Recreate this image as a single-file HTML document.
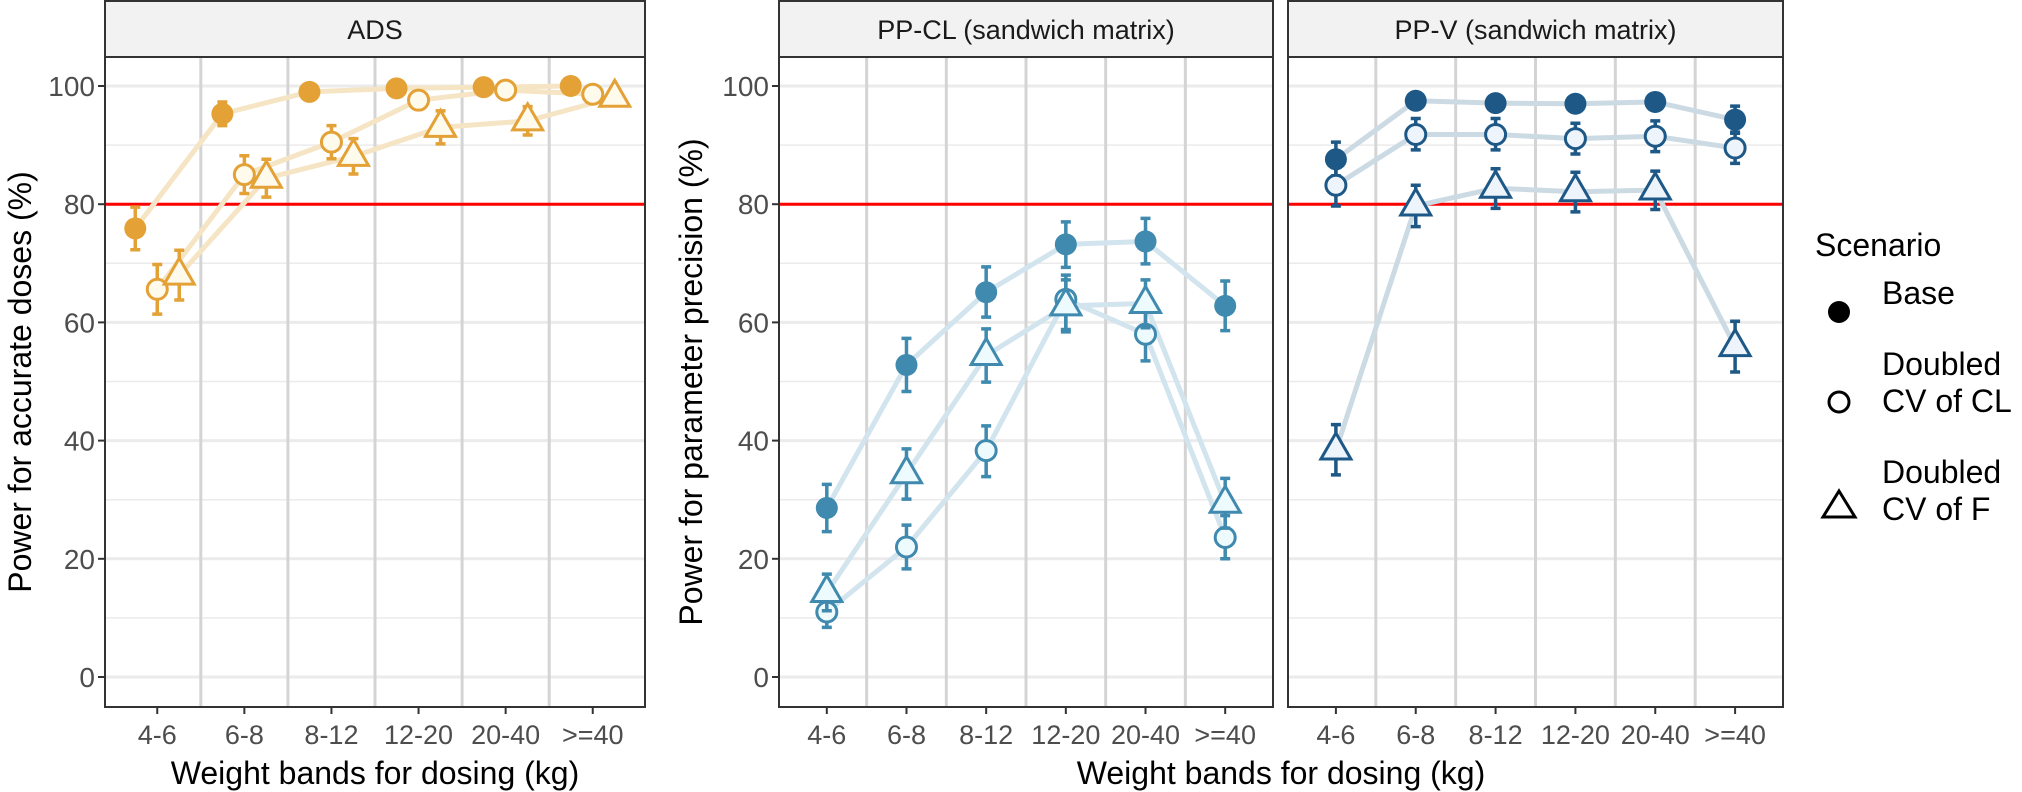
<!DOCTYPE html>
<html><head><meta charset="utf-8"><title>Power by weight band</title>
<style>
html,body{margin:0;padding:0;background:#fff;}
svg{display:block;font-family:"Liberation Sans",Arial,sans-serif;}
</style></head>
<body>
<svg id="chart" width="2022" height="792" viewBox="0 0 2022 792" xmlns="http://www.w3.org/2000/svg"></svg>
<script>
// ---- data ----
const categories = ["4-6","6-8","8-12","12-20","20-40",">=40"];
const scenarios = ["Base","Doubled CV of CL","Doubled CV of F"];
const yTicks = [0,20,40,60,80,100];
const threshold = 80;

// ADS
const adsBase = [75.9,95.3,99.0,99.6,99.8,100];
const adsBaseLo = [72.3,93.3,98.2,99.2,99.5,99.8];
const adsBaseHi = [79.5,97.3,99.6,99.9,100,100];
const adsCL = [65.6,85.0,90.5,97.6,99.3,98.6];
const adsCLLo = [61.4,81.8,87.7,96.6,98.7,97.8];
const adsCLHi = [69.8,88.2,93.3,98.6,99.8,99.3];
const adsF = [68.0,84.4,88.1,93.0,94.1,98.1];
const adsFLo = [63.8,81.2,85.1,90.2,91.7,97.2];
const adsFHi = [72.2,87.6,91.1,95.8,96.5,99.0];

// PP-CL
const clBase = [28.6,52.8,65.1,73.2,73.7,62.8];
const clBaseLo = [24.6,48.3,60.9,69.3,69.9,58.6];
const clBaseHi = [32.6,57.3,69.4,77.0,77.6,67.0];
const clCL = [11.0,22.0,38.3,63.9,58.0,23.6];
const clCLLo = [8.4,18.3,33.9,58.8,53.5,20.0];
const clCLHi = [13.6,25.7,42.5,68.0,62.2,27.3];
const clF = [14.3,34.4,54.4,62.8,63.2,29.4];
const clFLo = [11.2,30.1,49.9,58.4,59.1,25.2];
const clFHi = [17.4,38.6,58.9,67.2,67.2,33.6];

// PP-V
const vBase = [87.6,97.5,97.1,97.0,97.3,94.3];
const vBaseLo = [84.8,96.6,96.0,95.9,96.3,92.0];
const vBaseHi = [90.5,98.4,98.2,98.1,98.3,96.6];
const vCL = [83.2,91.8,91.8,91.1,91.5,89.5];
const vCLLo = [79.7,89.2,89.2,88.5,88.9,86.9];
const vCLHi = [86.5,94.5,94.5,93.7,94.1,92.2];
const vF = [38.4,79.7,82.7,82.1,82.4,55.9];
const vFLo = [34.2,76.2,79.3,78.7,79.1,51.6];
const vFHi = [42.7,83.2,86.0,85.4,85.6,60.2];

// ---- helpers ----
const svg = document.getElementById('chart');
const NS = 'http://www.w3.org/2000/svg';
function mk(tag, attrs, parent){
  const e = document.createElementNS(NS, tag);
  for (const k in attrs) e.setAttribute(k, attrs[k]);
  (parent||svg).appendChild(e);
  return e;
}
const panelTop = 57, panelBottom = 707;
function yScale(v){ return 86 + (100 - v) * 5.91; }

const panels = [
  {name:'ads', title:'ADS', left:105, right:645, dodge:22, color:'#E3A136', light:'#F6E5C5', fill:'#FFFBEC',
   s:[[adsBase,adsBaseLo,adsBaseHi],[adsCL,adsCLLo,adsCLHi],[adsF,adsFLo,adsFHi]], yaxis:true},
  {name:'pp-cl', title:'PP-CL (sandwich matrix)', left:779, right:1273, dodge:0, color:'#3F8AAE', light:'#D2E4ED', fill:'#EEFBFE',
   s:[[clBase,clBaseLo,clBaseHi],[clCL,clCLLo,clCLHi],[clF,clFLo,clFHi]], yaxis:true},
  {name:'pp-v', title:'PP-V (sandwich matrix)', left:1288, right:1783, dodge:0, color:'#1D5886', light:'#CCDAE4', fill:'#EDF4FC',
   s:[[vBase,vBaseLo,vBaseHi],[vCL,vCLLo,vCLHi],[vF,vFLo,vFHi]], yaxis:false}
];

panels.forEach(p=>{
  const step = (p.right - p.left) / 6.2;
  const xScale = v => p.left + (v - 0.4) * step;
  const g = mk('g', {});
  
  
  mk('rect',{x:p.left,y:panelTop,width:p.right-p.left,height:panelBottom-panelTop,fill:'#fff'},g);
  for (let v=10; v<=100; v+=20){
    const l = mk('line',{x1:p.left,x2:p.right,y1:yScale(v),y2:yScale(v),stroke:'#EBEBEB','stroke-width':1.5},g);
    
    
  }
  yTicks.forEach(v=>{
    const l = mk('line',{x1:p.left,x2:p.right,y1:yScale(v),y2:yScale(v),stroke:'#EBEBEB','stroke-width':3},g);
    
    
  });
  for (let i=1;i<categories.length;i++){
    const l = mk('line',{x1:xScale(i+0.5),x2:xScale(i+0.5),y1:panelTop,y2:panelBottom,stroke:'#D4D4D4','stroke-width':3},g);
    
    
  }
  const th = mk('line',{x1:p.left,x2:p.right,y1:yScale(threshold),y2:yScale(threshold),stroke:'#FF0000','stroke-width':3},g);
  
  
  p.s.forEach((ser,si)=>{
    const off = (si-1)*p.dodge;
    const pts = ser[0].map((v,i)=>[xScale(i+1)+off, yScale(v)]);
    const pl = mk('polyline',{points:pts.map(q=>q.join(',')).join(' '),fill:'none',stroke:p.light,'stroke-width':5,'stroke-linejoin':'round'},g);
    
    
  });
  p.s.forEach((ser,si)=>{
    const off = (si-1)*p.dodge;
    ser[0].forEach((v,i)=>{
      const cx = xScale(i+1)+off, lo = yScale(ser[1][i]), hi = yScale(ser[2][i]);
      const eb = mk('path',{d:`M${cx},${lo}V${hi}M${cx-5},${lo}H${cx+5}M${cx-5},${hi}H${cx+5}`,stroke:p.color,'stroke-width':3.5,fill:'none'},g);
      
      
      const cy = yScale(v);
      let m;
      if (si===0) m = mk('circle',{cx:cx,cy:cy,r:11,fill:p.color},g);
      else if (si===1) m = mk('circle',{cx:cx,cy:cy,r:10,fill:p.fill,stroke:p.color,'stroke-width':3},g);
      else m = mk('path',{d:`M${cx},${cy-17}L${cx+15},${cy+9}L${cx-15},${cy+9}Z`,fill:p.fill,stroke:p.color,'stroke-width':3,'stroke-linejoin':'miter'},g);
      
      
    });
  });
  mk('rect',{x:p.left,y:panelTop,width:p.right-p.left,height:panelBottom-panelTop,fill:'none',stroke:'#333','stroke-width':2},g);
  const st = mk('rect',{x:p.left,y:1,width:p.right-p.left,height:panelTop-1,fill:'#F2F2F2',stroke:'#333','stroke-width':2},g);
  
  
  const stt = mk('text',{x:(p.left+p.right)/2,y:39,'text-anchor':'middle','font-size':27,fill:'#1a1a1a'},g);
  stt.textContent = p.title;
  
  
  categories.forEach((c,i)=>{
    const x = xScale(i+1);
    mk('line',{x1:x,x2:x,y1:panelBottom,y2:panelBottom+7,stroke:'#333','stroke-width':2},g);
    const t = mk('text',{x:x,y:744,'text-anchor':'middle','font-size':27,fill:'#4D4D4D'},g);
    t.textContent = c;
    
    
  });
  if (p.yaxis){
    yTicks.forEach(v=>{
      const y = yScale(v);
      mk('line',{x1:p.left-7,x2:p.left,y1:y,y2:y,stroke:'#333','stroke-width':2},g);
      const t = mk('text',{x:p.left-10,y:y+10,'text-anchor':'end','font-size':28,fill:'#4D4D4D'},g);
      t.textContent = v;
      
      
    });
  }
});

function title(txt, x, y, rot, name){
  const t = mk('text',{x:x,y:y,'text-anchor':'middle','font-size':32,fill:'#000',transform:rot?`rotate(-90 ${x} ${y})`:''});
  t.textContent = txt;
  
  
}
title('Power for accurate doses (%)', 31, 382, true, 'y-axis-title-ads');
title('Power for parameter precision (%)', 702, 382, true, 'y-axis-title-pp');
title('Weight bands for dosing (kg)', 375, 784, false, 'x-axis-title-ads');
title('Weight bands for dosing (kg)', 1281, 784, false, 'x-axis-title-pp');

const lg = mk('g',{});


const lt = mk('text',{x:1815,y:256,'font-size':32,fill:'#000'},lg);
lt.textContent = 'Scenario';


const e1 = mk('circle',{cx:1839,cy:312,r:11,fill:'#000'},lg);


const e2 = mk('circle',{cx:1839,cy:402,r:10,fill:'#fff',stroke:'#000','stroke-width':3},lg);


const e3 = mk('path',{d:'M1839,491L1855,517L1823,517Z',fill:'#fff',stroke:'#000','stroke-width':3},lg);


[['Base',304],['Doubled',375],['CV of CL',412],['Doubled',483],['CV of F',520]].forEach(([s,y])=>{
  const t = mk('text',{x:1882,y:y,'font-size':32,fill:'#000'},lg);
  t.textContent = s;
  
  
});
</script>
</body></html>
